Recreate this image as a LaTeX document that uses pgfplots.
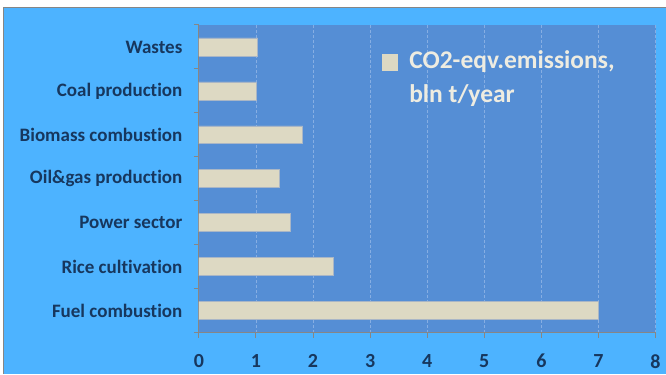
\documentclass[border=0pt]{standalone}
\usepackage{fontspec}
\setmainfont[Ligatures=NoCommon]{Carlito}
\usepackage{pgfplots}
\pgfplotsset{compat=1.18}

\definecolor{outerbg}{HTML}{4DB3FF}
\definecolor{plotbg}{HTML}{558ED5}
\definecolor{barfill}{HTML}{DDD9C3}
\definecolor{baredge}{HTML}{A9B6C6}
\definecolor{labelcol}{HTML}{17375E}
\definecolor{legendtext}{HTML}{EEECE1}
\definecolor{axisgray}{HTML}{868686}
\definecolor{gridcol}{HTML}{86AEE3}

\begin{document}
\begin{tikzpicture}[x=1pt,y=1pt]
% page and chart frame
\fill[white] (0,0) rectangle (666,374);
\fill[outerbg] (4,0) rectangle (666,366);
\draw[axisgray, line width=1pt] (4,0) -- (4,366) -- (666,366);
\begin{axis}[
  at={(199pt,41pt)}, anchor=south west,
  scale only axis, width=457pt, height=308pt,
  axis background/.style={fill=plotbg},
  xbar, bar width=18pt,
  xmin=0, xmax=8, ymin=-0.5, ymax=6.5,
  xtick={0,...,8},
  ytick={0,...,6},
  yticklabels={Fuel combustion, Rice cultivation, Power sector,
    Oil\&gas production, Biomass combustion, Coal production, Wastes},
  minor ytick={-0.5,0.5,...,6.5},
  axis x line*=bottom, axis y line*=left,
  axis line style={axisgray, line width=1pt, -},
  tick align=outside,
  major tick length=5pt, minor tick length=5pt,
  major y tick style={draw=none},
  minor y tick style={axisgray, line width=1pt},
  major x tick style={axisgray, line width=1pt},
  xmajorgrids,
  major x grid style={gridcol, line width=0.8pt, dash pattern=on 3pt off 2pt},
  /pgf/number format/assume math mode=true,
  xticklabel style={font=\fontsize{20}{22}\selectfont\bfseries, text=labelcol, yshift=-13pt},
  yticklabel style={font=\fontsize{19}{22}\selectfont\bfseries, text=labelcol, xshift=-8pt},
  legend style={at={(0.40,0.9415)}, anchor=north west, draw=none, fill=none,
    font=\fontsize{25.5}{34}\selectfont\bfseries, text=legendtext,
    inner sep=0pt, outer sep=0pt},
  legend cell align=left,
  legend image code/.code={\fill[barfill] (0pt,-13pt) rectangle (16pt,3pt);
    \path (25pt,0pt);},
]
\addplot[fill=barfill, draw=baredge, line width=0.8pt]
  coordinates {(7.0,0) (2.36,1) (1.61,2) (1.41,3) (1.82,4) (1.0,5) (1.03,6)};
\addlegendentry{\begin{tabular}[t]{@{}l@{}}CO2-eqv.emissions,\\bln t/year\end{tabular}}
\end{axis}
\end{tikzpicture}
\end{document}
